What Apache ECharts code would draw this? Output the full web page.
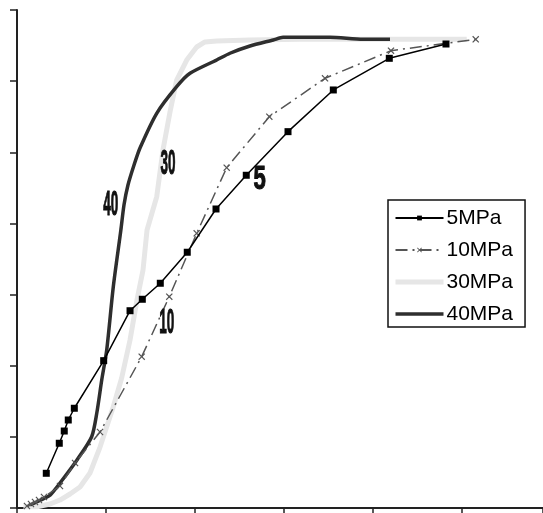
<!DOCTYPE html>
<html><head><meta charset="utf-8">
<script src="https://cdn.jsdelivr.net/npm/echarts@6/dist/echarts.min.js"></script>
<style>html,body{margin:0;padding:0;background:#fff}#c{width:543px;height:513px}</style>
</head><body><div id="c"></div>
<script>
// Data (x, y) in axis units
const s5x = [0.329,0.475,0.531,0.576,0.644,0.974,1.270,1.408,1.610,1.913,2.236,2.576,3.045,3.554,4.183,4.820];
const s5y = [0.488,0.910,1.082,1.237,1.402,2.071,2.773,2.934,3.159,3.595,4.203,4.677,5.290,5.876,6.321,6.522];
const s10x = [0.112,0.157,0.202,0.247,0.303,0.483,0.652,0.933,1.401,1.711,2.019,2.356,2.835,3.461,4.202,5.154];
const s10y = [0.028,0.056,0.084,0.112,0.155,0.309,0.633,1.068,2.127,2.970,3.861,4.784,5.500,6.040,6.428,6.588];
const s30x = [0.073,0.225,0.371,0.483,0.596,0.708,0.820,0.933,1.082,1.176,1.270,1.348,1.416,1.461,1.570,1.640,1.719,1.794,1.907,2.019,2.112,2.244,2.618,3.180,5.053];
const s30y = [0.018,0.018,0.056,0.112,0.197,0.295,0.492,0.857,1.424,1.827,2.362,2.924,3.346,3.908,4.376,5.032,5.567,6.016,6.297,6.480,6.551,6.565,6.579,6.588,6.588];
const s40x = [0.146,0.315,0.374,0.483,0.674,0.839,0.896,0.952,1.008,1.082,1.167,1.202,1.247,1.315,1.382,1.570,1.794,1.944,2.244,2.393,2.618,2.880,2.989,3.517,3.888,4.191];
const s40y = [0.042,0.141,0.183,0.351,0.675,1.002,1.331,1.799,2.221,3.111,3.908,4.259,4.540,4.821,5.060,5.548,5.922,6.110,6.297,6.392,6.494,6.579,6.616,6.616,6.588,6.588];
const seriesNames = ['5MPa','10MPa','30MPa','40MPa'];
const curveLabels = ['40','30','5','10'];
const curveLabelX = [1.054,1.697,2.725,1.682];
const curveLabelY = [4.259,4.836,4.611,2.600];

const zip = (xs, ys) => xs.map((x, i) => [x, ys[i]]);
const xMark = 'path://M0,1.2L1.2,0L5,3.8L8.8,0L10,1.2L6.2,5L10,8.8L8.8,10L5,6.2L1.2,10L0,8.8L3.8,5Z';

const chart = echarts.init(document.getElementById('c'), null, {renderer: 'canvas'});
const option = {
  animation: false,
  grid: {left: 17, right: 0, top: 10, bottom: 5, containLabel: false},
  xAxis: {
    type: 'value', min: 0, max: 5.91, interval: 1,
    axisLine: {show: true, lineStyle: {color: '#222', width: 2}},
    axisTick: {show: true, length: 5, lineStyle: {color: '#222', width: 1.5}},
    axisLabel: {show: false}, splitLine: {show: false}
  },
  yAxis: {
    type: 'value', min: 0, max: 7, interval: 1,
    axisLine: {show: true, lineStyle: {color: '#222', width: 2}},
    axisTick: {show: true, length: 7, lineStyle: {color: '#222', width: 1.5}},
    axisLabel: {show: false}, splitLine: {show: false}
  },
  legend: {
    orient: 'vertical', left: 388, top: 200,
    data: [
      {name: seriesNames[0]},
      {name: seriesNames[1]},
      {name: seriesNames[2], itemStyle: {opacity: 0}, lineStyle: {width: 5, color: '#e6e6e6'}},
      {name: seriesNames[3], itemStyle: {opacity: 0}, lineStyle: {width: 3.5, color: '#2e2e2e'}}
    ],
    itemWidth: 48, itemHeight: 6, itemGap: 10,
    padding: [7, 12, 2, 5],
    borderColor: '#111', borderWidth: 1.5,
    textStyle: {fontFamily: 'Liberation Sans, Arial', fontSize: 21, color: '#000', lineHeight: 22, padding: [0,0,0,-2]}
  },
  series: [
    {name: '30MPa', type: 'line', data: zip(s30x, s30y), showSymbol: false, symbol: 'none',
     lineStyle: {color: '#e6e6e6', width: 5}, itemStyle: {color: '#e6e6e6'}, z: 1},
    {name: '40MPa', type: 'line', data: zip(s40x, s40y), showSymbol: false, symbol: 'none', smooth: 0.25,
     lineStyle: {color: '#2e2e2e', width: 3.5}, itemStyle: {color: '#2e2e2e'}, z: 2},
    {name: '10MPa', type: 'line', data: zip(s10x, s10y), symbol: xMark, symbolSize: 7,
     lineStyle: {color: '#555', width: 1.5, type: [12, 5, 2, 5]}, itemStyle: {color: '#555'}, z: 3},
    {name: '5MPa', type: 'line', data: zip(s5x, s5y), symbol: 'rect', symbolSize: 7,
     lineStyle: {color: '#000', width: 1.5}, itemStyle: {color: '#000'}, z: 4}
  ]
};
chart.setOption(option);

const graphics = curveLabels.map((t, i) => {
  const p = chart.convertToPixel({gridIndex: 0}, [curveLabelX[i], curveLabelY[i]]);
  const narrow = t !== '5';
  return {
    type: 'text', x: p[0], y: p[1],
    scaleX: narrow ? 0.52 : 0.85, scaleY: narrow ? 1.35 : 1.25,
    style: {
      text: t, fontFamily: 'Liberation Sans, Arial', fontWeight: 'bold', fontSize: 26,
      fill: '#111', stroke: '#000', lineWidth: 0.8,
      textAlign: 'center', textVerticalAlign: 'middle'
    },
    z: 10
  };
});
chart.setOption({graphic: graphics});
</script>
</body></html>
